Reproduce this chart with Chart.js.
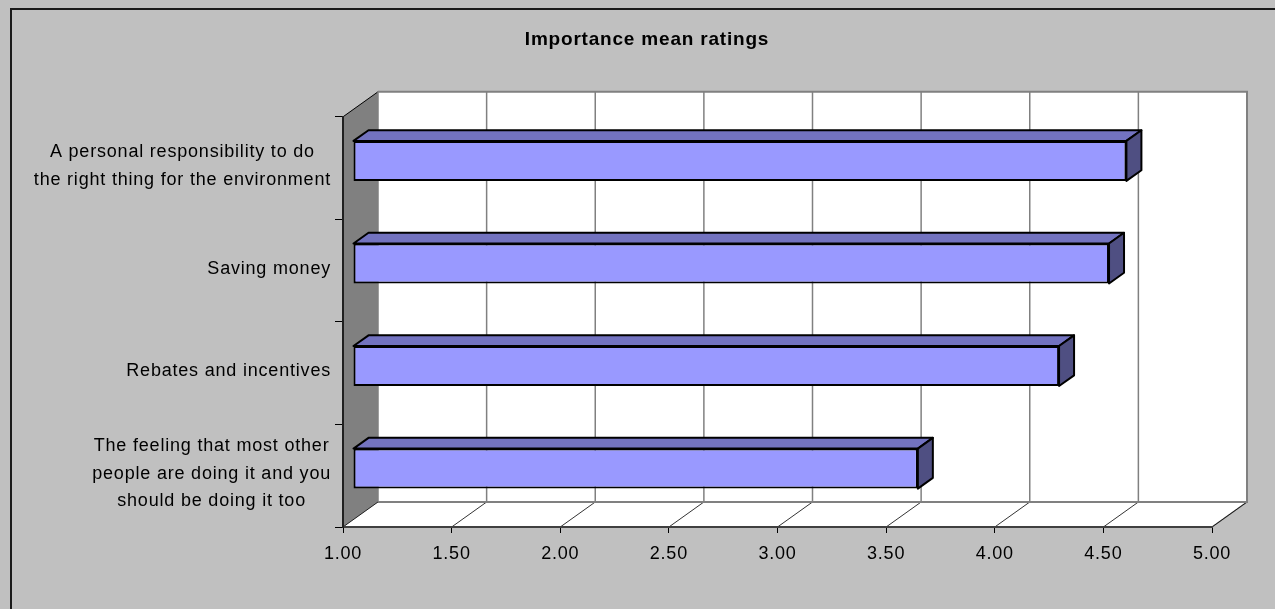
<!DOCTYPE html>
<html>
<head>
<meta charset="utf-8">
<script src="https://cdn.jsdelivr.net/npm/chart.js@4/dist/chart.umd.min.js"></script>
<style>
  html, body { margin: 0; padding: 0; background: #C0C0C0; }
  #wrap { width: 1275px; height: 609px; }
</style>
</head>
<body>
<div id="wrap"><canvas id="barChart"></canvas></div>
<script>
/* Importance mean ratings - 3D style horizontal bars */

var categories = [
    ["A personal responsibility to do", "the right thing for the environment"],
    ["Saving money"],
    ["Rebates and incentives"],
    ["The feeling that most other", "people are doing it and you", "should be doing it too"]
];
var ratings = [4.56, 4.48, 4.25, 3.60];
var xTickLabels = ["1.00", "1.50", "2.00", "2.50", "3.00", "3.50", "4.00", "4.50", "5.00"];

// depth of the fake 3d box, bar offset into it
var depthX = 35, depthY = -25;
var barOffX = 10, barDepthX = 15;

function depthYFor(dx) { return dx * depthY / depthX; }

var threeDPlugin = {
    id: "threeD",
    beforeUpdate: function (chart) {
        chart.ctx.letterSpacing = "0.8px";
    },
    beforeDraw: function (chart) {
        var ctx = chart.ctx;
        var a = chart.chartArea;
        var xs = chart.scales.x;
        ctx.letterSpacing = "0.8px";
        ctx.save();
        ctx.fillStyle = "#C0C0C0";
        ctx.fillRect(0, 0, chart.width, chart.height);
        // outer frame
        ctx.strokeStyle = "#1a1a1a";
        ctx.lineWidth = 2;
        ctx.strokeRect(11, 9, chart.width + 10, chart.height + 10);

        // back wall
        ctx.fillStyle = "#FFFFFF";
        ctx.fillRect(a.left + depthX, a.top + depthY, a.right - a.left, a.bottom - a.top);
        // floor
        ctx.beginPath();
        ctx.moveTo(a.left, a.bottom);
        ctx.lineTo(a.right, a.bottom);
        ctx.lineTo(a.right + depthX, a.bottom + depthY);
        ctx.lineTo(a.left + depthX, a.bottom + depthY);
        ctx.closePath();
        ctx.fill();
        ctx.strokeStyle = "#808080";
        ctx.lineWidth = 1.5;
        ctx.beginPath();
        ctx.moveTo(a.right, a.bottom);
        ctx.lineTo(a.right + depthX, a.bottom + depthY);
        ctx.stroke();
        // side wall
        ctx.fillStyle = "#808080";
        ctx.beginPath();
        ctx.moveTo(a.left, a.top);
        ctx.lineTo(a.left + depthX, a.top + depthY);
        ctx.lineTo(a.left + depthX, a.bottom + depthY);
        ctx.lineTo(a.left, a.bottom);
        ctx.closePath();
        ctx.fill();
        ctx.strokeStyle = "#000000";
        ctx.lineWidth = 1;
        ctx.beginPath();
        ctx.moveTo(a.left, a.top);
        ctx.lineTo(a.left + depthX, a.top + depthY);
        ctx.stroke();

        // grid on back wall and floor
        xs.ticks.forEach(function (t) {
            var px = xs.getPixelForValue(t.value);
            ctx.strokeStyle = "#808080";
            ctx.lineWidth = 1.5;
            ctx.beginPath();
            ctx.moveTo(px + depthX, a.top + depthY);
            ctx.lineTo(px + depthX, a.bottom + depthY);
            ctx.stroke();
            ctx.strokeStyle = "#000000";
            ctx.lineWidth = 0.8;
            ctx.beginPath();
            ctx.moveTo(px, a.bottom);
            ctx.lineTo(px + depthX, a.bottom + depthY);
            ctx.stroke();
        });
        // back wall border
        ctx.strokeStyle = "#808080";
        ctx.lineWidth = 2;
        ctx.beginPath();
        ctx.moveTo(a.left + depthX, a.top + depthY);
        ctx.lineTo(a.right + depthX, a.top + depthY);
        ctx.lineTo(a.right + depthX, a.bottom + depthY);
        ctx.lineTo(a.left + depthX, a.bottom + depthY);
        ctx.stroke();
        ctx.restore();
    },
    beforeDatasetsDraw: function (chart) {
        chart.ctx.save();
        chart.ctx.translate(barOffX, depthYFor(barOffX));
    },
    afterDatasetsDraw: function (chart) {
        var ctx = chart.ctx;
        var dy = depthYFor(barDepthX);
        chart.getDatasetMeta(0).data.forEach(function (bar) {
            var x0 = bar.base, x1 = bar.x;
            var top = bar.y - bar.height / 2, bot = bar.y + bar.height / 2;
            ctx.lineWidth = 2;
            ctx.strokeStyle = "#000000";
            ctx.lineJoin = "round";
            // top face
            ctx.fillStyle = "#7373C0";
            ctx.beginPath();
            ctx.moveTo(x0, top);
            ctx.lineTo(x0 + barDepthX, top + dy);
            ctx.lineTo(x1 + barDepthX, top + dy);
            ctx.lineTo(x1, top);
            ctx.closePath();
            ctx.fill();
            ctx.stroke();
            // side face
            ctx.fillStyle = "#4F4F82";
            ctx.beginPath();
            ctx.moveTo(x1, top);
            ctx.lineTo(x1 + barDepthX, top + dy);
            ctx.lineTo(x1 + barDepthX, bot + dy);
            ctx.lineTo(x1, bot);
            ctx.closePath();
            ctx.fill();
            ctx.stroke();
        });
        ctx.restore();

        // category labels, lines centred in a right aligned block
        var ys = chart.scales.y;
        ctx.save();
        ctx.font = "18px 'Liberation Sans', Arial, sans-serif";
        ctx.fillStyle = "#000000";
        ctx.textAlign = "center";
        ctx.textBaseline = "middle";
        var lineH = 27.5;
        categories.forEach(function (lines, i) {
            var w = 0;
            lines.forEach(function (l) { w = Math.max(w, ctx.measureText(l).width); });
            var cx = 331 - w / 2;
            var cy = ys.getPixelForTick(i) - 2;
            lines.forEach(function (l, j) {
                ctx.fillText(l, cx, cy + (j - (lines.length - 1) / 2) * lineH);
            });
        });
        ctx.restore();
    }
};

var chartOptions = {
    indexAxis: "y",
    responsive: true,
    maintainAspectRatio: false,
    animation: false,
    layout: { padding: { top: 0, left: 19, right: 0, bottom: 0 } },
    plugins: {
        legend: { display: false },
        tooltip: { enabled: false },
        title: {
            display: true,
            text: "Importance mean ratings",
            color: "#000000",
            font: { family: "'Liberation Sans', Arial, sans-serif", size: 19, weight: "bold", lineHeight: 1.2 },
            padding: { top: 28, bottom: 66 }
        }
    },
    scales: {
        x: {
            min: 1,
            max: 5,
            afterFit: function (scale) { scale.height = 82; },
            ticks: {
                stepSize: 0.5,
                color: "#000000",
                padding: 10,
                font: { family: "'Liberation Sans', Arial, sans-serif", size: 18 },
                callback: function (value, index) { return xTickLabels[index]; }
            },
            grid: { drawOnChartArea: false, tickLength: 6, color: "#000000", lineWidth: 1 },
            border: { display: true, color: "#404040", width: 2 }
        },
        y: {
            afterFit: function (scale) { scale.width = 324; },
            ticks: { display: false },
            grid: { drawOnChartArea: false, tickLength: 8, color: "#000000", lineWidth: 1, offset: true },
            border: { display: true, color: "#202020", width: 2 }
        },
        // empty right axis, only keeps room on the right of the plot
        yRight: {
            type: "linear",
            position: "right",
            afterFit: function (scale) { scale.width = 63; },
            ticks: { display: false },
            grid: { display: false },
            border: { display: false }
        }
    }
};

window.onload = function () {
    var ctx = document.getElementById("barChart").getContext("2d");
    window.myBar = new Chart(ctx, {
        type: "bar",
        data: {
            labels: categories,
            datasets: [{
                label: "Importance",
                data: ratings,
                base: 1,
                backgroundColor: "#9999FF",
                borderColor: "#000000",
                borderWidth: 2,
                borderSkipped: false,
                barPercentage: 0.39,
                categoryPercentage: 1.0
            }]
        },
        options: chartOptions,
        plugins: [threeDPlugin]
    });
};
</script>
</body>
</html>
